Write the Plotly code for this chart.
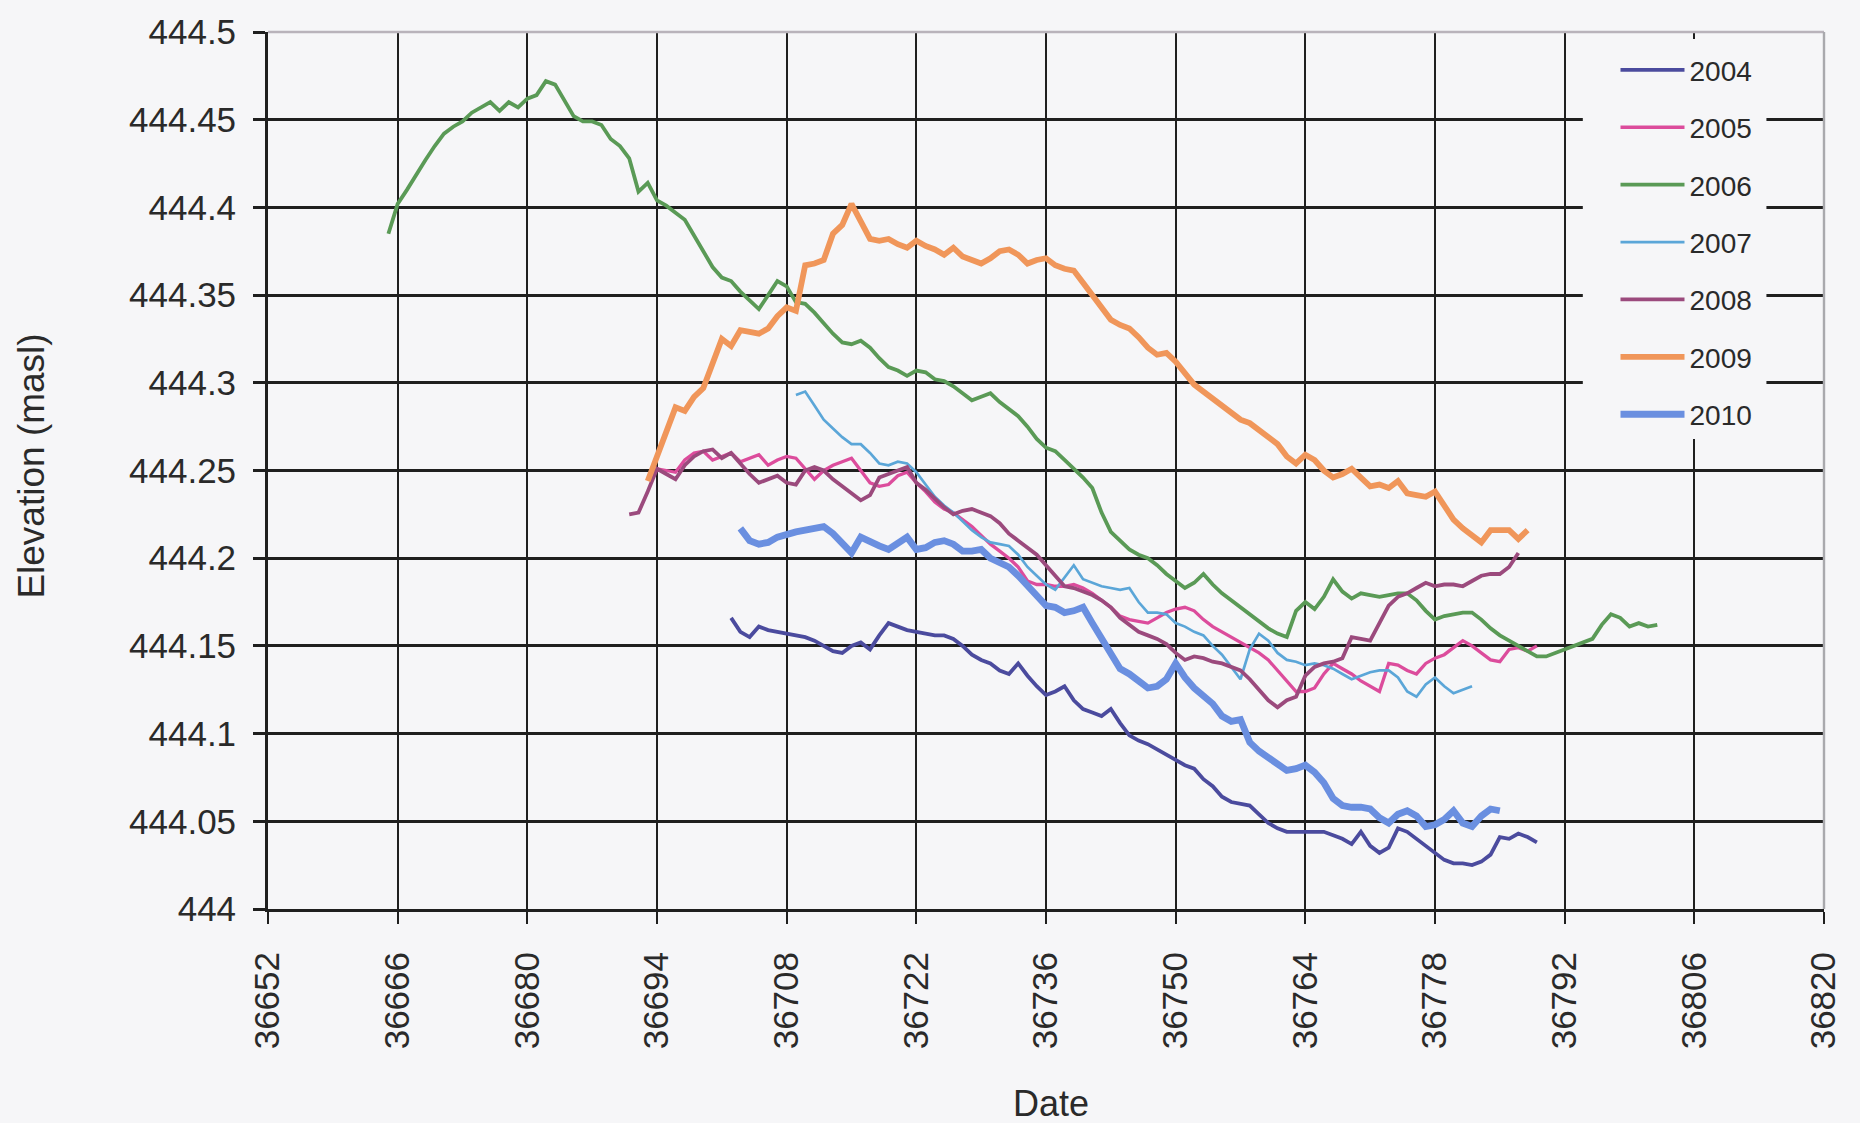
import plotly.graph_objects as go

# ---------------- data (daily elevations, masl) ----------------
years = ["2004", "2005", "2006", "2007", "2008", "2009", "2010"]

start_2004 = 36702
elev_2004 = [444.166, 444.158, 444.155, 444.161, 444.159, 444.158, 444.157, 444.156, 444.155, 444.153,
             444.150, 444.147, 444.146, 444.150, 444.152, 444.148, 444.156, 444.163, 444.161, 444.159,
             444.158, 444.157, 444.156, 444.156, 444.154, 444.150, 444.145, 444.142, 444.140, 444.136,
             444.134, 444.140, 444.133, 444.127, 444.122, 444.124, 444.127, 444.119, 444.114, 444.112,
             444.110, 444.114, 444.106, 444.099, 444.096, 444.094, 444.091, 444.088, 444.085, 444.082,
             444.080, 444.074, 444.070, 444.064, 444.061, 444.060, 444.059, 444.054, 444.049, 444.046,
             444.044, 444.044, 444.044, 444.044, 444.044, 444.042, 444.040, 444.037, 444.044, 444.036,
             444.032, 444.035, 444.046, 444.044, 444.040, 444.036, 444.032, 444.028, 444.026, 444.026,
             444.025, 444.027, 444.031, 444.041, 444.040, 444.043, 444.041, 444.038]

start_2005 = 36694
elev_2005 = [444.251, 444.250, 444.249, 444.256, 444.260, 444.261, 444.256, 444.258, 444.260, 444.255,
             444.257, 444.259, 444.253, 444.256, 444.258, 444.257, 444.251, 444.245, 444.250, 444.253,
             444.255, 444.257, 444.250, 444.243, 444.241, 444.242, 444.247, 444.249, 444.243, 444.238,
             444.232, 444.228, 444.226, 444.222, 444.218, 444.213, 444.208, 444.204, 444.200, 444.195,
             444.187, 444.185, 444.185, 444.184, 444.184, 444.185, 444.183, 444.180, 444.176, 444.172,
             444.167, 444.165, 444.164, 444.163, 444.166, 444.169, 444.171, 444.172, 444.170, 444.165,
             444.161, 444.158, 444.155, 444.152, 444.149, 444.146, 444.142, 444.136, 444.130, 444.124,
             444.124, 444.126, 444.134, 444.140, 444.137, 444.134, 444.130, 444.127, 444.124, 444.140,
             444.139, 444.136, 444.134, 444.140, 444.143, 444.145, 444.149, 444.153, 444.150, 444.146,
             444.142, 444.141, 444.148, 444.149, 444.147, 444.150]

start_2006 = 36665
elev_2006 = [444.385, 444.402, 444.410, 444.419, 444.427, 444.435, 444.442, 444.446, 444.449, 444.454,
             444.457, 444.460, 444.455, 444.460, 444.457, 444.462, 444.464, 444.472, 444.470, 444.461,
             444.452, 444.449, 444.449, 444.447, 444.439, 444.435, 444.428, 444.409, 444.414, 444.404,
             444.401, 444.397, 444.393, 444.384, 444.375, 444.366, 444.360, 444.358, 444.352, 444.347,
             444.342, 444.350, 444.358, 444.355, 444.346, 444.345, 444.340, 444.334, 444.328, 444.323,
             444.322, 444.324, 444.320, 444.314, 444.309, 444.307, 444.304, 444.307, 444.306, 444.302,
             444.301, 444.298, 444.294, 444.290, 444.292, 444.294, 444.289, 444.285, 444.281, 444.275,
             444.268, 444.263, 444.261, 444.256, 444.251, 444.246, 444.240, 444.226, 444.215, 444.210,
             444.205, 444.202, 444.200, 444.196, 444.191, 444.187, 444.183, 444.186, 444.191, 444.185,
             444.180, 444.176, 444.172, 444.168, 444.164, 444.160, 444.157, 444.155, 444.170, 444.175,
             444.171, 444.178, 444.188, 444.181, 444.177, 444.180, 444.179, 444.178, 444.179, 444.180,
             444.180, 444.176, 444.170, 444.165, 444.167, 444.168, 444.169, 444.169, 444.165, 444.160,
             444.156, 444.153, 444.150, 444.147, 444.144, 444.144, 444.146, 444.148, 444.150, 444.152,
             444.154, 444.162, 444.168, 444.166, 444.161, 444.163, 444.161, 444.162]

start_2007 = 36709
elev_2007 = [444.293, 444.295, 444.287, 444.279, 444.274, 444.269, 444.265, 444.265, 444.260, 444.254,
             444.253, 444.255, 444.254, 444.249, 444.242, 444.235, 444.230, 444.226, 444.221, 444.216,
             444.212, 444.209, 444.208, 444.207, 444.202, 444.195, 444.190, 444.185, 444.182, 444.189,
             444.196, 444.188, 444.186, 444.184, 444.183, 444.182, 444.183, 444.175, 444.169, 444.169,
             444.168, 444.163, 444.161, 444.158, 444.156, 444.150, 444.145, 444.138, 444.131, 444.148,
             444.157, 444.153, 444.146, 444.142, 444.141, 444.139, 444.140, 444.139, 444.137, 444.134,
             444.131, 444.133, 444.135, 444.136, 444.136, 444.132, 444.124, 444.121, 444.128, 444.132,
             444.127, 444.123, 444.125, 444.127]

start_2008 = 36691
elev_2008 = [444.225, 444.226, 444.238, 444.251, 444.248, 444.245, 444.253, 444.258, 444.261, 444.262,
             444.257, 444.260, 444.254, 444.248, 444.243, 444.245, 444.247, 444.243, 444.242, 444.250,
             444.252, 444.250, 444.245, 444.241, 444.237, 444.233, 444.236, 444.246, 444.248, 444.250,
             444.252, 444.243, 444.239, 444.234, 444.229, 444.225, 444.227, 444.228, 444.226, 444.224,
             444.220, 444.214, 444.210, 444.206, 444.202, 444.196, 444.190, 444.184, 444.183, 444.181,
             444.179, 444.176, 444.172, 444.166, 444.162, 444.158, 444.156, 444.154, 444.151, 444.146,
             444.142, 444.144, 444.143, 444.141, 444.140, 444.138, 444.136, 444.131, 444.125, 444.119,
             444.115, 444.119, 444.121, 444.133, 444.138, 444.140, 444.141, 444.143, 444.155, 444.154,
             444.153, 444.163, 444.173, 444.178, 444.180, 444.183, 444.186, 444.184, 444.185, 444.185,
             444.184, 444.187, 444.190, 444.191, 444.191, 444.195, 444.203]

start_2009 = 36693
elev_2009 = [444.244, 444.258, 444.272, 444.286, 444.284, 444.292, 444.297, 444.312, 444.325, 444.321,
             444.330, 444.329, 444.328, 444.331, 444.338, 444.343, 444.341, 444.367, 444.368, 444.370,
             444.385, 444.390, 444.402, 444.392, 444.382, 444.381, 444.382, 444.379, 444.377, 444.381,
             444.378, 444.376, 444.373, 444.377, 444.372, 444.370, 444.368, 444.371, 444.375, 444.376,
             444.373, 444.368, 444.370, 444.371, 444.367, 444.365, 444.364, 444.357, 444.350, 444.343,
             444.336, 444.333, 444.331, 444.326, 444.320, 444.316, 444.317, 444.312, 444.305, 444.299,
             444.295, 444.291, 444.288, 444.283, 444.279, 444.277, 444.273, 444.270, 444.265, 444.258,
             444.254, 444.259, 444.256, 444.250, 444.246, 444.248, 444.251, 444.246, 444.241, 444.242,
             444.240, 444.244, 444.237, 444.236, 444.235, 444.238, 444.230, 444.222, 444.217, 444.213,
             444.209, 444.216, 444.216, 444.216, 444.211, 444.216]

start_2010 = 36703
elev_2010 = [444.217, 444.210, 444.208, 444.209, 444.212, 444.214, 444.215, 444.216, 444.217, 444.218,
             444.214, 444.208, 444.203, 444.212, 444.209, 444.207, 444.205, 444.209, 444.212, 444.205,
             444.206, 444.209, 444.210, 444.208, 444.204, 444.204, 444.205, 444.200, 444.198, 444.195,
             444.190, 444.184, 444.178, 444.173, 444.172, 444.169, 444.170, 444.172, 444.163, 444.154,
             444.145, 444.137, 444.134, 444.130, 444.126, 444.127, 444.131, 444.140, 444.132, 444.126,
             444.121, 444.117, 444.110, 444.107, 444.108, 444.095, 444.090, 444.086, 444.083, 444.079,
             444.080, 444.082, 444.078, 444.072, 444.063, 444.059, 444.058, 444.058, 444.057, 444.052,
             444.049, 444.054, 444.056, 444.053, 444.047, 444.048, 444.051, 444.056, 444.049, 444.047,
             444.053, 444.057, 444.056]

x_range = [36652, 36820]
y_range = [444.0, 444.5]
x_tick_vals = [36652, 36666, 36680, 36694, 36708, 36722, 36736, 36750, 36764, 36778, 36792, 36806, 36820]
x_tick_text = ["36652", "36666", "36680", "36694", "36708", "36722", "36736", "36750", "36764",
               "36778", "36792", "36806", "36820"]
y_tick_vals = [444.0, 444.05, 444.1, 444.15, 444.2, 444.25, 444.3, 444.35, 444.4, 444.45, 444.5]
y_tick_text = ["444", "444.05", "444.1", "444.15", "444.2", "444.25", "444.3", "444.35", "444.4",
               "444.45", "444.5"]

# ---------------- styling ----------------
starts = [start_2004, start_2005, start_2006, start_2007, start_2008, start_2009, start_2010]
series = [elev_2004, elev_2005, elev_2006, elev_2007, elev_2008, elev_2009, elev_2010]
colors = ["#4b4b9e", "#dc4c9c", "#5a9a56", "#5ba6d8", "#9b4a7d", "#f0965a", "#6a8fe0"]
widths = [3.8, 3.3, 3.8, 2.7, 3.8, 5.8, 6.8]

FONT = "Liberation Sans, Arial, sans-serif"
BG = "#f6f6f8"
GRID = "#1f1f1f"
TXT = "#2a2a2a"


def dom_x(f):
    # fraction of the plot width -> x-axis value (for the legend background patch)
    return x_range[0] + f * (x_range[1] - x_range[0])


def dom_y(f):
    return y_range[0] + f * (y_range[1] - y_range[0])


fig = go.Figure()
for name, st, vals, col, w in zip(years, starts, series, colors, widths):
    fig.add_trace(go.Scatter(
        x=list(range(st, st + len(vals))), y=vals, mode="lines", name=name,
        line=dict(color=col, width=w), legendgroup=name,
    ))

fig.update_layout(
    width=1860, height=1123,
    margin=dict(l=268, r=36, t=26, b=214),
    paper_bgcolor=BG, plot_bgcolor=BG,
    font=dict(family=FONT, color=TXT),
    showlegend=True,
    legend=dict(
        x=0.866, y=0.985, xanchor="left", yanchor="top",
        bgcolor=BG, borderwidth=0,
        font=dict(size=28, family=FONT, color=TXT),
        itemwidth=64, tracegroupgap=18,
    ),
    xaxis=dict(
        range=x_range, tickmode="array", tickvals=x_tick_vals, ticktext=x_tick_text,
        tickangle=-90, tickfont=dict(size=35, family=FONT, color=TXT),
        showgrid=True, gridcolor=GRID, gridwidth=2.4,
        showline=True, linecolor=GRID, linewidth=3,
        ticks="outside", ticklen=12, tickwidth=2.4, tickcolor=GRID,
        ticklabelstandoff=14, zeroline=False,
    ),
    yaxis=dict(
        range=y_range, tickmode="array", tickvals=y_tick_vals, ticktext=y_tick_text,
        tickfont=dict(size=35, family=FONT, color=TXT),
        showgrid=True, gridcolor=GRID, gridwidth=3.2,
        showline=True, linecolor=GRID, linewidth=2.8,
        ticks="outside", ticklen=12, tickwidth=3, tickcolor=GRID,
        ticklabelstandoff=10, zeroline=False,
    ),
    annotations=[
        dict(text="Elevation (masl)", xref="paper", yref="paper", x=-0.152, y=0.505,
             xanchor="center", yanchor="middle",
             textangle=-90, showarrow=False, font=dict(size=37, family=FONT, color=TXT)),
        dict(text="Date", xref="paper", yref="paper", x=0.503, y=-0.222,
             xanchor="center", yanchor="middle",
             showarrow=False, font=dict(size=36, family=FONT, color=TXT)),
    ],
    shapes=[
        # background patch behind the legend (hides grid, stays below the lines)
        dict(type="rect", xref="x", yref="y",
             x0=dom_x(0.845), x1=dom_x(0.963), y0=dom_y(0.539), y1=dom_y(0.992),
             fillcolor=BG, line=dict(width=0), layer="between"),
        dict(type="line", xref="paper", yref="paper", x0=0, x1=1, y0=1, y1=1,
             line=dict(color="#b9b3bb", width=2.6), layer="above"),
        dict(type="line", xref="paper", yref="paper", x0=1, x1=1, y0=0, y1=1,
             line=dict(color="#a9a9ad", width=2.4), layer="above"),
    ],
)

fig.write_html(
    "out.html",
    config={"displayModeBar": False},
    post_script="document.body.style.margin='0';document.body.style.overflow='hidden';",
)
